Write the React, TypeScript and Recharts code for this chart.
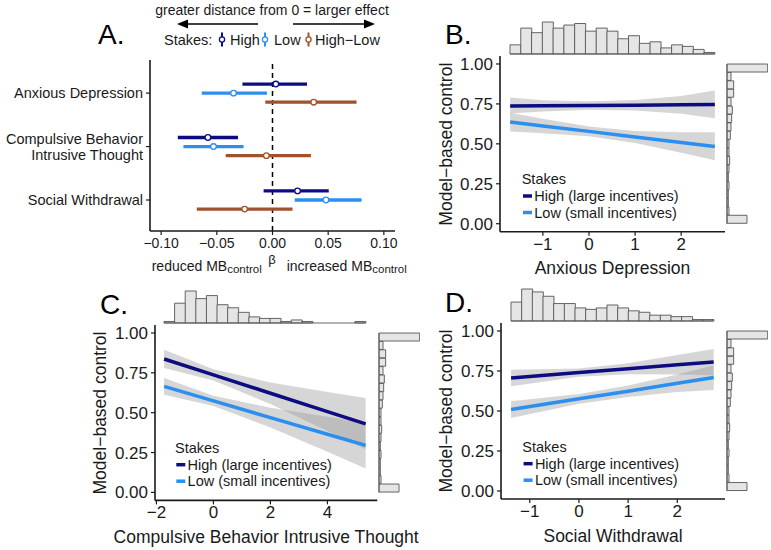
import React from 'react';
import {
  ScatterChart,
  Scatter,
  ErrorBar,
  ReferenceLine,
  ComposedChart,
  Area,
  Line,
  BarChart,
  Bar,
  XAxis,
  YAxis,
} from 'recharts';

const FONT = '"Liberation Sans", Arial, Helvetica, sans-serif';
const INK = '#1a1a1a';
const HIGH = '#0c0c80';
const LOW = '#2b8ff0';
const DIFF = '#a0522d';
const BAND = '#999999';
const HIST_FILL = '#e5e5e5';
const HIST_LINE = '#555555';

// ---- A: regression weights (beta) with 95% CI, per factor ----
const factorLabels = ['Anxious Depression', 'Compulsive Behavior\nIntrusive Thought', 'Social Withdrawal'];
const highBeta = [0.003, -0.058, 0.0225];
const highLower = [-0.027, -0.085, -0.008];
const highUpper = [0.031, -0.031, 0.0505];
const lowBeta = [-0.035, -0.053, 0.048];
const lowLower = [-0.0635, -0.08, 0.02];
const lowUpper = [-0.005, -0.026, 0.08];
const diffBeta = [0.037, -0.0055, -0.025];
const diffLower = [-0.0065, -0.042, -0.068];
const diffUpper = [0.0755, 0.0345, 0.018];
const betaTicks = [-0.1, -0.05, 0, 0.05, 0.1];

// ---- B: Anxious Depression ----
const adX = [-1.71, -1, 0, 1, 2, 2.73];
const adHighFit = [0.737, 0.738, 0.74, 0.742, 0.744, 0.746];
const adHighLo = [0.69, 0.703, 0.713, 0.709, 0.689, 0.66];
const adHighHi = [0.79, 0.773, 0.767, 0.775, 0.799, 0.834];
const adLowFit = [0.637, 0.612, 0.578, 0.543, 0.509, 0.484];
const adLowLo = [0.578, 0.567, 0.548, 0.505, 0.445, 0.398];
const adLowHi = [0.695, 0.657, 0.608, 0.581, 0.573, 0.572];

// ---- C: Compulsive Behavior Intrusive Thought ----
const cbX = [-1.73, 0, 2, 4, 5.34];
const cbHighFit = [0.837, 0.737, 0.622, 0.507, 0.43];
const cbHighLo = [0.78, 0.702, 0.555, 0.385, 0.27];
const cbHighHi = [0.895, 0.772, 0.69, 0.63, 0.592];
const cbLowFit = [0.665, 0.574, 0.469, 0.365, 0.295];
const cbLowLo = [0.613, 0.542, 0.407, 0.255, 0.15];
const cbLowHi = [0.718, 0.606, 0.531, 0.475, 0.44];

// ---- D: Social Withdrawal ----
const swX = [-1.38, 0, 1, 2, 2.74];
const swHighFit = [0.706, 0.74, 0.764, 0.789, 0.806];
const swHighLo = [0.654, 0.714, 0.73, 0.728, 0.724];
const swHighHi = [0.758, 0.766, 0.798, 0.85, 0.888];
const swLowFit = [0.509, 0.576, 0.624, 0.673, 0.709];
const swLowLo = [0.457, 0.546, 0.588, 0.618, 0.632];
const swLowHi = [0.561, 0.606, 0.66, 0.728, 0.786];

// ---- marginal histograms (counts per bin) ----
const adCounts = [6, 17, 14, 21, 17, 19, 20, 15, 17, 15, 10, 12, 7, 8, 4, 6, 5, 3, 1];
const cbCounts = [1, 13, 21, 16, 18, 12, 10, 7, 4, 3, 3, 1, 2, 1, 0, 0, 0, 0, 1];
const swCounts = [13, 22, 20, 17, 12, 12, 9, 8, 9, 11, 9, 7, 6, 4, 4, 3, 3, 1, 1];
// model-based control, bins from 0 up to 1
const mbCounts = [30, 3, 2, 2, 3, 2, 3, 4, 3, 3, 5, 6, 7, 8, 6, 10, 10, 6, 61];
const mbTicks = [0, 0.25, 0.5, 0.75, 1];
const Y_DOMAIN: [number, number] = [-0.05, 1.05];

const minus = (s: string) => s.replace('-', '\u2212');
const fmtBeta = (v: number) => minus(v.toFixed(2));
const fmtInt = (v: number) => minus(String(v));

const axisLine = { stroke: INK, strokeWidth: 1.6 };
const tickLine = { stroke: INK, strokeWidth: 1.2 };

function forestRows(beta: number[], lower: number[], upper: number[], shift: number) {
  return beta.map((b, i) => ({ x: b, y: i + 1 + shift, err: [b - lower[i], upper[i] - b] }));
}

const FactorTick = (props: any) => {
  const { x, y, payload } = props;
  const lines = factorLabels[Math.round(payload.value) - 1].split('\n');
  const lh = 15.7;
  return (
    <text x={x} y={y} textAnchor="end" fontSize={14.5} fill={INK}>
      {lines.map((l, i) => (
        <tspan key={i} x={x} dy={i === 0 ? 5.2 - ((lines.length - 1) * lh) / 2 : lh}>
          {l}
        </tspan>
      ))}
    </text>
  );
};

const ringDot = (color: string) => (p: any) =>
  <circle cx={p.cx} cy={p.cy} r={2.8} fill="#fff" stroke={color} strokeWidth={1.3} />;

function LegendIcon({ x, color }: { x: number; color: string }) {
  return (
    <g>
      <line x1={x} x2={x} y1={32.5} y2={46.5} stroke={color} strokeWidth={2} />
      <circle cx={x} cy={39.5} r={2.6} fill="#fff" stroke={color} strokeWidth={1.3} />
    </g>
  );
}

function ForestPanel() {
  const series = [
    { rows: forestRows(highBeta, highLower, highUpper, -0.17), color: HIGH },
    { rows: forestRows(lowBeta, lowLower, lowUpper, 0), color: LOW },
    { rows: forestRows(diffBeta, diffLower, diffUpper, 0.17), color: DIFF },
  ];
  return (
    <>
      <div style={{ position: 'absolute', left: 0, top: 0 }}>
        <ScatterChart width={400} height={280} margin={{ top: 60, right: 5, bottom: 19, left: 0 }}>
          <XAxis
            type="number"
            dataKey="x"
            domain={[-0.11, 0.11]}
            ticks={betaTicks}
            allowDataOverflow
            tickFormatter={fmtBeta}
            height={30}
            tickSize={4}
            tickMargin={3}
            tick={{ fontSize: 14, fill: INK }}
            axisLine={axisLine}
            tickLine={tickLine}
          />
          <YAxis
            type="number"
            dataKey="y"
            domain={[0.38, 3.58]}
            reversed
            ticks={[1, 2, 3]}
            allowDataOverflow
            width={150}
            tickSize={4}
            tickMargin={3}
            tick={FactorTick}
            axisLine={axisLine}
            tickLine={tickLine}
          />
          <ReferenceLine x={0} stroke="#000" strokeWidth={1.5} strokeDasharray="5 4" />
          {series.map((s, i) => (
            <Scatter key={i} data={s.rows} shape={ringDot(s.color)} isAnimationActive={false}>
              <ErrorBar dataKey="err" direction="x" width={0} stroke={s.color} strokeWidth={3.3} />
            </Scatter>
          ))}
        </ScatterChart>
      </div>
      <svg width={771} height={550} style={{ position: 'absolute', left: 0, top: 0, pointerEvents: 'none' }}>
        <text x={98} y={44} fontSize={28} fill="#000">A.</text>
        <text x={272} y={15} fontSize={14} fill={INK} textAnchor="middle">
          greater distance from 0 = larger effect
        </text>
        <line x1={258} x2={185} y1={24} y2={24} stroke="#000" strokeWidth={1.5} />
        <polygon points="177,24 188,19.5 188,28.5" fill="#000" />
        <line x1={293} x2={367} y1={24} y2={24} stroke="#000" strokeWidth={1.5} />
        <polygon points="375,24 364,19.5 364,28.5" fill="#000" />
        <text x={164} y={44.5} fontSize={14.5} fill={INK}>Stakes:</text>
        <LegendIcon x={222} color={HIGH} />
        <text x={230} y={44.5} fontSize={14.5} fill={INK}>High</text>
        <LegendIcon x={265} color={LOW} />
        <text x={274} y={44.5} fontSize={14.5} fill={INK}>Low</text>
        <LegendIcon x={308.5} color={DIFF} />
        <text x={315} y={44.5} fontSize={14.5} fill={INK}>High{'\u2212'}Low</text>
        <text x={151.7} y={271} fontSize={14} fill={INK}>
          reduced MB<tspan fontSize={11.5} dy={1.5}>control</tspan>
        </text>
        <text x={272} y={264} fontSize={13} fill={INK} textAnchor="middle">β</text>
        <text x={286.7} y={271} fontSize={14} fill={INK}>
          increased MB<tspan fontSize={11.5} dy={1.5}>control</tspan>
        </text>
      </svg>
    </>
  );
}

type Box = { x0: number; x1: number; y0: number; y1: number };
type PanelProps = {
  letter: string;
  letterAt: [number, number];
  title: string;
  xs: number[];
  highFit: number[];
  highLo: number[];
  highHi: number[];
  lowFit: number[];
  lowLo: number[];
  lowHi: number[];
  counts: number[];
  plot: Box;
  xDomain: [number, number];
  xTicks: number[];
  legendAt: [number, number];
  yTitleX: number;
  xTitleY: number;
};

const YW = 100;
const XH = 34;
const PAD = 6;
const TOP_H = 32;
const RIGHT_W = 40.7;

function EffectPanel(p: PanelProps) {
  const { plot, xDomain } = p;
  const plotW = plot.x1 - plot.x0;
  const plotH = plot.y1 - plot.y0;
  const rows = p.xs.map((x, i) => ({
    x,
    high: p.highFit[i],
    low: p.lowFit[i],
    highBand: [p.highLo[i], p.highHi[i]],
    lowBand: [p.lowLo[i], p.lowHi[i]],
  }));
  // place the marginal histograms on the panel's own scales
  const sx = (v: number) => plot.x0 + ((v - xDomain[0]) / (xDomain[1] - xDomain[0])) * plotW;
  const sy = (v: number) => plot.y0 + ((Y_DOMAIN[1] - v) / (Y_DOMAIN[1] - Y_DOMAIN[0])) * plotH;
  const hx0 = sx(p.xs[0]);
  const hx1 = sx(p.xs[p.xs.length - 1]);
  const hy0 = sy(1);
  const hy1 = sy(0);
  const topRows = p.counts.map((count, bin) => ({ bin, count }));
  const rightRows = mbCounts.map((count, bin) => ({ bin, count }));
  const [lx, ly] = p.legendAt;
  const yMid = (plot.y0 + plot.y1) / 2;

  return (
    <>
      <div style={{ position: 'absolute', left: plot.x0 - YW, top: plot.y0 - PAD }}>
        <ComposedChart
          width={plotW + YW + PAD}
          height={plotH + PAD + XH}
          data={rows}
          margin={{ top: PAD, right: PAD, bottom: 0, left: 0 }}
        >
          <XAxis
            type="number"
            dataKey="x"
            domain={xDomain}
            ticks={p.xTicks}
            allowDataOverflow
            tickFormatter={fmtInt}
            height={XH}
            tickSize={4}
            tickMargin={2}
            tick={{ fontSize: 17, fill: INK }}
            axisLine={axisLine}
            tickLine={tickLine}
          />
          <YAxis
            type="number"
            domain={Y_DOMAIN}
            ticks={mbTicks}
            allowDataOverflow
            tickFormatter={(v: number) => v.toFixed(2)}
            width={YW}
            tickSize={4}
            tickMargin={3}
            tick={{ fontSize: 17, fill: INK }}
            axisLine={axisLine}
            tickLine={tickLine}
          />
          <Area type="linear" dataKey="highBand" stroke="none" fill={BAND} fillOpacity={0.4}
            dot={false} activeDot={false} isAnimationActive={false} />
          <Area type="linear" dataKey="lowBand" stroke="none" fill={BAND} fillOpacity={0.4}
            dot={false} activeDot={false} isAnimationActive={false} />
          <Line type="linear" dataKey="high" stroke={HIGH} strokeWidth={3.5} dot={false} isAnimationActive={false} />
          <Line type="linear" dataKey="low" stroke={LOW} strokeWidth={3.5} dot={false} isAnimationActive={false} />
        </ComposedChart>
      </div>

      <div style={{ position: 'absolute', left: hx0 - 1, top: plot.y0 - 2 - TOP_H - 1 }}>
        <BarChart
          width={hx1 - hx0 + 2}
          height={TOP_H + 2}
          data={topRows}
          margin={{ top: 1, right: 1, bottom: 1, left: 1 }}
          barCategoryGap={0}
        >
          <XAxis dataKey="bin" hide />
          <YAxis hide domain={[0, Math.max(...p.counts)]} />
          <ReferenceLine y={0} stroke={HIST_LINE} strokeWidth={0.9} />
          <Bar dataKey="count" fill={HIST_FILL} stroke={HIST_LINE} strokeWidth={0.9} isAnimationActive={false} />
        </BarChart>
      </div>

      <div style={{ position: 'absolute', left: plot.x1 + 1.5 - 1, top: hy0 - 1 }}>
        <BarChart
          layout="vertical"
          width={RIGHT_W + 2}
          height={hy1 - hy0 + 2}
          data={rightRows}
          margin={{ top: 1, right: 1, bottom: 1, left: 1 }}
          barCategoryGap={0}
        >
          <XAxis type="number" hide domain={[0, Math.max(...mbCounts)]} />
          <YAxis type="category" dataKey="bin" hide reversed />
          <ReferenceLine x={0} stroke={HIST_LINE} strokeWidth={0.9} />
          <Bar dataKey="count" fill={HIST_FILL} stroke={HIST_LINE} strokeWidth={0.9} isAnimationActive={false} />
        </BarChart>
      </div>

      <svg width={771} height={550} style={{ position: 'absolute', left: 0, top: 0, pointerEvents: 'none' }}>
        <text x={p.letterAt[0]} y={p.letterAt[1]} fontSize={28} fill="#000">{p.letter}</text>
        <text
          x={p.yTitleX}
          y={yMid}
          fontSize={17.5}
          fill={INK}
          textAnchor="middle"
          transform={`rotate(-90 ${p.yTitleX} ${yMid})`}
        >
          Model{'\u2212'}based control
        </text>
        <text x={(plot.x0 + plot.x1) / 2} y={p.xTitleY} fontSize={17.5} fill={INK} textAnchor="middle">
          {p.title}
        </text>
        <text x={lx} y={ly + 5.2} fontSize={14.5} fill={INK}>Stakes</text>
        <line x1={lx + 1.3} x2={lx + 10.3} y1={ly + 17} y2={ly + 17} stroke={HIGH} strokeWidth={3.5} />
        <text x={lx + 12.6} y={ly + 22.2} fontSize={14.5} fill={INK}>High (large incentives)</text>
        <line x1={lx + 1.3} x2={lx + 10.3} y1={ly + 33.5} y2={ly + 33.5} stroke={LOW} strokeWidth={3.5} />
        <text x={lx + 12.6} y={ly + 38.7} fontSize={14.5} fill={INK}>Low (small incentives)</text>
      </svg>
    </>
  );
}

export default function App() {
  return (
    <div
      style={{
        position: 'absolute',
        left: 0,
        top: 0,
        width: 771,
        height: 550,
        background: '#fff',
        fontFamily: FONT,
        overflow: 'hidden',
      }}
    >
      <ForestPanel />
      <EffectPanel
        letter="B."
        letterAt={[445, 44.3]}
        title="Anxious Depression"
        xs={adX}
        highFit={adHighFit}
        highLo={adHighLo}
        highHi={adHighHi}
        lowFit={adLowFit}
        lowLo={adLowLo}
        lowHi={adLowHi}
        counts={adCounts}
        plot={{ x0: 500, x1: 725, y0: 56.3, y1: 232 }}
        xDomain={[-1.93, 2.95]}
        xTicks={[-1, 0, 1, 2]}
        legendAt={[521.7, 179]}
        yTitleX={451.8}
        xTitleY={273.5}
      />
      <EffectPanel
        letter="C."
        letterAt={[100, 314.3]}
        title="Compulsive Behavior Intrusive Thought"
        xs={cbX}
        highFit={cbHighFit}
        highLo={cbHighLo}
        highHi={cbHighHi}
        lowFit={cbLowFit}
        lowLo={cbLowLo}
        lowHi={cbLowHi}
        counts={cbCounts}
        plot={{ x0: 155, x1: 377.3, y0: 325.3, y1: 500.7 }}
        xDomain={[-2.05, 5.75]}
        xTicks={[-2, 0, 2, 4]}
        legendAt={[175, 447.7]}
        yTitleX={105.5}
        xTitleY={543}
      />
      <EffectPanel
        letter="D."
        letterAt={[445, 311.7]}
        title="Social Withdrawal"
        xs={swX}
        highFit={swHighFit}
        highLo={swHighLo}
        highHi={swHighHi}
        lowFit={swLowFit}
        lowLo={swLowLo}
        lowHi={swLowHi}
        counts={swCounts}
        plot={{ x0: 501, x1: 725, y0: 323, y1: 499 }}
        xDomain={[-1.585, 2.97]}
        xTicks={[-1, 0, 1, 2]}
        legendAt={[522.3, 446.7]}
        yTitleX={451.5}
        xTitleY={541.5}
      />
    </div>
  );
}
